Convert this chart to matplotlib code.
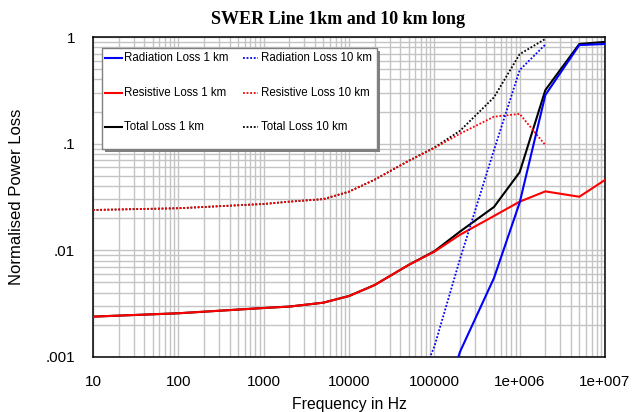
import matplotlib
matplotlib.use("Agg")
import matplotlib.pyplot as plt
from matplotlib.ticker import FixedLocator, NullFormatter
from matplotlib.patches import Rectangle
from matplotlib.lines import Line2D

# ---- data ----
freq_1km = [10, 100, 1000, 2000, 5000, 1e4, 2e4, 5e4, 1e5, 2e5, 5e5, 1e6, 2e6, 5e6, 1e7]
resist_1km = [0.00239, 0.00257, 0.00288, 0.00297, 0.00323, 0.00373, 0.00473, 0.0073,
              0.0097, 0.0140, 0.0210, 0.0286, 0.0357, 0.0318, 0.0457]
total_1km = [0.00239, 0.00257, 0.00288, 0.00297, 0.00323, 0.00373, 0.00473, 0.0073,
             0.0098, 0.0150, 0.0255, 0.0540, 0.318, 0.86, 0.90]
freq_rad_1km = [1e5, 2e5, 5e5, 1e6, 2e6, 5e6, 1e7]
rad_1km = [0.0002, 0.00112, 0.0055, 0.028, 0.286, 0.84, 0.86]

freq_10km = [10, 100, 1000, 2000, 5000, 1e4, 2e4, 5e4, 1e5, 2e5, 5e5, 1e6, 2e6]
resist_10km = [0.0239, 0.0248, 0.0272, 0.0286, 0.0302, 0.0355, 0.046, 0.069,
               0.091, 0.124, 0.179, 0.19, 0.097]
total_10km = [0.0239, 0.0248, 0.0272, 0.0286, 0.0302, 0.0355, 0.046, 0.069,
              0.092, 0.132, 0.272, 0.69, 0.96]
freq_rad_10km = [5e4, 1e5, 2e5, 5e5, 1e6, 2e6]
rad_10km = [0.00033, 0.00125, 0.0083, 0.087, 0.49, 0.85]

xticks = [10, 100, 1000, 1e4, 1e5, 1e6, 1e7]
xticklabels = ["10", "100", "1000", "10000", "100000", "1e+006", "1e+007"]
yticks = [0.001, 0.01, 0.1, 1]
yticklabels = [".001", ".01", ".1", "1"]

plt.rcParams['font.family'] = ['Liberation Sans', 'DejaVu Sans']

fig = plt.figure(figsize=(6.35, 4.12), dpi=100)
W, H = 635, 412
ax = fig.add_axes([93 / W, (H - 357) / H, 512 / W, 320 / H])
ax.set_xscale('log')
ax.set_yscale('log')
ax.set_xlim(10, 1e7)
ax.set_ylim(0.001, 1)

dot = (0, (1, 1))
BLUE, RED = '#0000ff', '#ff0000'
ax.plot(freq_1km, total_1km, color='black', lw=1.5, zorder=3)
ax.plot(freq_10km, total_10km, color='black', lw=1.3, ls=dot, zorder=3)
ax.plot(freq_1km, resist_1km, color=RED, lw=1.5, zorder=4)
ax.plot(freq_10km, resist_10km, color=RED, lw=1.3, ls=dot, zorder=4)
ax.plot(freq_rad_1km, rad_1km, color=BLUE, lw=1.5, zorder=5)
ax.plot(freq_rad_10km, rad_10km, color=BLUE, lw=1.3, ls=dot, zorder=5)

# ticks & grid
ax.xaxis.set_major_locator(FixedLocator(xticks))
ax.set_xticklabels(xticklabels)
ax.yaxis.set_major_locator(FixedLocator(yticks))
ax.set_yticklabels(yticklabels)
ax.xaxis.set_minor_formatter(NullFormatter())
ax.yaxis.set_minor_formatter(NullFormatter())
ax.tick_params(which='both', length=0)
ax.tick_params(axis='x', pad=13, labelsize=11)
ax.tick_params(axis='y', pad=13, labelsize=11)
ax.grid(True, which='both', color='#c4c4c4', lw=1.0, zorder=0)
ax.set_axisbelow(True)
for s in ax.spines.values():
    s.set_linewidth(1.1)
    s.set_color('black')

# ---- manual legend (pixel layout) ----
def fx(px):
    return px / W

def fy(py):
    return 1 - py / H

L, T, R, B = 101.7, 48.3, 376.7, 149.3
fig.patches.append(Rectangle((fx(L + 3), fy(B + 3)), fx(R - L), (B - T) / H,
                             transform=fig.transFigure, facecolor='#808080',
                             edgecolor='none', zorder=5))
fig.patches.append(Rectangle((fx(L), fy(B)), fx(R - L), (B - T) / H,
                             transform=fig.transFigure, facecolor='white',
                             edgecolor='#808080', lw=1.0, zorder=6))
legend_entries = [
    ('Radiation Loss 1 km', BLUE, '-', 0, 0),
    ('Resistive Loss 1 km', RED, '-', 0, 1),
    ('Total Loss 1 km', 'black', '-', 0, 2),
    ('Radiation Loss 10 km', BLUE, dot, 1, 0),
    ('Resistive Loss 10 km', RED, dot, 1, 1),
    ('Total Loss 10 km', 'black', dot, 1, 2),
]
col_x = [(105, 122, 124), (243, 258, 261)]
row_y = [58.3, 92.5, 126.5]
for label, col, ls, c, r in legend_entries:
    x0, x1, xt = col_x[c]
    y = row_y[r]
    fig.lines.append(Line2D([fx(x0), fx(x1)], [fy(y), fy(y)], transform=fig.transFigure,
                            color=col, lw=1.5 if ls == '-' else 1.3, ls=ls, zorder=7))
    fig.text(fx(xt), fy(y), label, ha='left', va='center', fontsize=8.3, zorder=7)

fig.text(338 / W, 1 - 20 / H, 'SWER Line 1km and 10 km long', ha='center', va='center',
         fontsize=13, fontweight='bold', family=['Liberation Serif', 'DejaVu Serif'])
fig.text(349 / W, 1 - 404 / H, 'Frequency in Hz', ha='center', va='center', fontsize=11.3)
fig.text(17 / W, 1 - 197 / H, 'Normalised Power Loss', ha='center', va='center',
         fontsize=12, rotation=90)

fig.savefig('out.png', dpi=100)
